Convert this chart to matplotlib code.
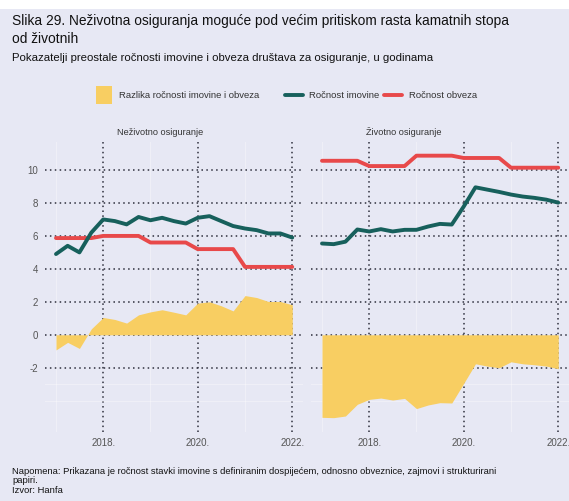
import matplotlib
matplotlib.use("Agg")
import matplotlib.pyplot as plt
import matplotlib.dates as mdates
from matplotlib.patches import Rectangle
from matplotlib.lines import Line2D
import pandas as pd

plt.rcParams['font.family'] = ['Liberation Sans', 'DejaVu Sans']
plt.rcParams['axes.unicode_minus'] = False

# kvartalni podaci, 2017. - 2022.
kvartali = pd.date_range('2017-01-01', '2022-01-01', freq='QS')

# Neživotno osiguranje
nezivot_imovina = [4.9, 5.4, 5.0, 6.2, 7.0, 6.9, 6.7, 7.15, 6.95, 7.1, 6.9, 6.75,
                   7.1, 7.2, 6.9, 6.6, 6.45, 6.35, 6.15, 6.15, 5.9]
nezivot_obveze = [5.87, 5.87, 5.87, 5.87, 6.0, 6.0, 6.0, 6.0, 5.6, 5.6, 5.6, 5.6,
                  5.2, 5.2, 5.2, 5.2, 4.12, 4.12, 4.12, 4.12, 4.12]
nezivot_razlika = [-0.92, -0.46, -0.83, 0.36, 1.05, 0.93, 0.71, 1.21, 1.39, 1.52, 1.37, 1.21,
                   1.92, 2.0, 1.76, 1.45, 2.38, 2.26, 2.02, 2.02, 1.82]

# Životno osiguranje
zivot_imovina = [5.54, 5.5, 5.65, 6.39, 6.27, 6.41, 6.27, 6.37, 6.37, 6.57, 6.73, 6.69,
                 7.78, 8.95, 8.81, 8.67, 8.51, 8.39, 8.31, 8.2, 8.02]
zivot_obveze = [10.56, 10.56, 10.56, 10.56, 10.24, 10.24, 10.24, 10.24, 10.87, 10.87, 10.87, 10.87,
                10.73, 10.73, 10.73, 10.73, 10.14, 10.14, 10.14, 10.14, 10.14]
zivot_razlika = [-5.01, -5.03, -4.93, -4.22, -3.92, -3.84, -3.96, -3.86, -4.48, -4.26, -4.12, -4.14,
                 -2.95, -1.76, -1.9, -2.0, -1.64, -1.76, -1.82, -1.9, -2.06]

panel_naslovi = ['Neživotno osiguranje', 'Životno osiguranje']
y_ticks = [-2, 0, 2, 4, 6, 8, 10]
x_ticks = ['2018-01-01', '2020-01-01', '2022-01-01']

BG = '#e7e8f4'
TEAL = '#17605c'
RED = '#e8494a'
YELLOW = '#f8ce62'
GRID = '#2e2f3d'

W, H = 569, 501
fig = plt.figure(figsize=(W / 100, H / 100), dpi=100, facecolor=BG)

# bijela traka na vrhu
fig.add_artist(Rectangle((0, 1 - 9 / H), 1, 9 / H, transform=fig.transFigure,
                         facecolor='white', edgecolor='none'))

ax_l = fig.add_axes([45 / W, 1 - 432 / H, 258 / W, 290 / H])
ax_r = fig.add_axes([311 / W, 1 - 432 / H, 258 / W, 290 / H])

panels = [
    (ax_l, nezivot_imovina, nezivot_obveze, nezivot_razlika),
    (ax_r, zivot_imovina, zivot_obveze, zivot_razlika),
]

for ax, imov, obv, razl in panels:
    ax.set_facecolor(BG)
    ax.fill_between(kvartali, 0, razl, color=YELLOW, lw=0, zorder=2)
    ax.plot(kvartali, imov, color=TEAL, lw=2.8, zorder=4, solid_capstyle='round')
    ax.plot(kvartali, obv, color=RED, lw=2.8, zorder=3, solid_capstyle='round')

    ax.set_xlim(pd.Timestamp('2016-10-08'), pd.Timestamp('2022-03-25'))
    ax.set_ylim(-5.9, 11.7)
    ax.set_yticks(y_ticks)
    ax.set_xticks(pd.to_datetime(x_ticks))
    ax.xaxis.set_major_formatter(mdates.DateFormatter('%Y.'))
    ax.set_xticks(pd.to_datetime(['2017-01-01', '2019-01-01', '2021-01-01']), minor=True)
    ax.set_yticks([-4, -3], minor=True)

    ax.grid(which='major', color=GRID, linestyle=(0, (1, 2.2)), lw=1.1, zorder=5)
    ax.grid(which='minor', color='white', lw=0.7, alpha=0.35, zorder=1)
    ax.tick_params(which='both', length=0, labelsize=7, labelcolor='#555555')
    ax.tick_params(axis='y', pad=5)
    ax.tick_params(axis='x', pad=4)
    for s in ax.spines.values():
        s.set_visible(False)

ax_r.tick_params(axis='y', labelleft=False)

# naslovi
fig.text(12 / W, 1 - 14 / H,
         'Slika 29. Neživotna osiguranja moguće pod većim pritiskom rasta kamatnih stopa\nod životnih',
         fontsize=9.9, va='top', ha='left', color='#111111', linespacing=1.4)
fig.text(12 / W, 1 - 58 / H,
         'Pokazatelji preostale ročnosti imovine i obveza društava za osiguranje, u godinama',
         fontsize=8.2, va='center', ha='left', color='#111111')

# legenda
ly = 1 - 95 / H
fig.add_artist(Rectangle((96 / W, 1 - 104 / H), 16 / W, 18 / H, transform=fig.transFigure,
                         facecolor=YELLOW, edgecolor='none'))
fig.text(119 / W, ly, 'Razlika ročnosti imovine i obveza', fontsize=6.8, va='center', color='#333333')
fig.add_artist(Line2D([285 / W, 303 / W], [ly, ly], transform=fig.transFigure,
                      color=TEAL, lw=2.8, solid_capstyle='round'))
fig.text(309 / W, ly, 'Ročnost imovine', fontsize=6.8, va='center', color='#333333')
fig.add_artist(Line2D([384 / W, 402 / W], [ly, ly], transform=fig.transFigure,
                      color=RED, lw=2.8, solid_capstyle='round'))
fig.text(409 / W, ly, 'Ročnost obveza', fontsize=6.8, va='center', color='#333333')

# naslovi panela
fig.text(160 / W, 1 - 132 / H, panel_naslovi[0], fontsize=6.6, ha='center', va='center', color='#333333')
fig.text(404 / W, 1 - 132 / H, panel_naslovi[1], fontsize=6.6, ha='center', va='center', color='#333333')

# napomena i izvor
fig.text(12 / W, 1 - 467 / H,
         'Napomena: Prikazana je ročnost stavki imovine s definiranim dospijećem, odnosno obveznice, '
         'zajmovi i strukturirani\npapiri.\nIzvor: Hanfa',
         fontsize=6.75, va='top', ha='left', color='#111111', linespacing=1.05)

fig.savefig('out.png', dpi=100, facecolor=BG)
